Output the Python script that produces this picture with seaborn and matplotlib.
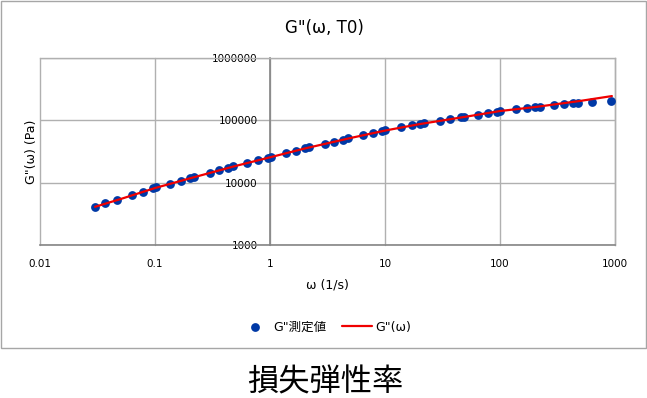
import matplotlib
matplotlib.use("Agg")
import matplotlib.pyplot as plt
import seaborn as sns
from matplotlib.patches import Rectangle
from matplotlib.ticker import FixedLocator, NullLocator

omega_meas = [0.0301, 0.0364, 0.0471, 0.063, 0.078, 0.096, 0.1016, 0.136, 0.167, 0.200,
              0.218, 0.298, 0.358, 0.434, 0.475, 0.629, 0.787, 0.968, 1.03, 1.38,
              1.67, 2.00, 2.18, 2.98, 3.58, 4.33, 4.79, 6.40, 7.87, 9.51,
              10.1, 13.8, 17.0, 20.1, 21.8, 30.3, 36.4, 45.9, 48.6, 65.0,
              78.7, 94.4, 100, 137, 171, 201, 223, 297, 362, 428,
              480, 627, 923]
g2_meas = [4100, 4640, 5250, 6310, 6960, 8070, 8370, 9570, 10700, 11800,
           12400, 14200, 15700, 16900, 18200, 20800, 22900, 25300, 25900, 29600,
           32700, 35700, 37400, 41800, 45600, 49100, 51600, 58200, 62000, 67500,
           70000, 77200, 83200, 87300, 90600, 98800, 105000, 112000, 113000, 123000,
           129000, 138000, 141000, 150000, 156000, 162000, 165000, 176000, 183000, 190000,
           190000, 194000, 207000]

# model curve G''(w)
omega_fit = [0.0301, 0.05, 0.1, 0.2, 0.5, 1, 2, 5, 10, 20, 50, 100, 200, 500, 940]
g2_fit = [4100, 5450, 8200, 11700, 18500, 25500, 35300, 52000, 68500, 87000,
          114000, 141000, 163000, 205000, 245000]

x_ticks = [0.01, 0.1, 1, 10, 100, 1000]
x_tick_labels = ["0.01", "0.1", "1", "10", "100", "1000"]
y_ticks = [1000, 10000, 100000, 1000000]
y_tick_labels = ["1000", "10000", "100000", "1000000"]

blue = "#0039a6"
red = "#f00000"
grid_col = "#b0b0b0"
axis_col = "#858585"

sns.set_theme(style="white")
plt.rcParams["font.family"] = ["DejaVu Sans", "Noto Sans CJK JP"]
plt.rcParams["text.color"] = "black"

fig = plt.figure(figsize=(6.47, 3.98), dpi=100)
ax = fig.add_axes([40 / 647, (398 - 245) / 398, 575 / 647, 187 / 398])
ax.set_xscale("log")
ax.set_yscale("log")

sns.scatterplot(x=omega_meas, y=g2_meas, ax=ax, color=blue, s=40, linewidth=0,
                label='G"測定値', zorder=3)
sns.lineplot(x=omega_fit, y=g2_fit, ax=ax, color=red, lw=1.6, sort=False,
             estimator=None, label='G"(ω)', zorder=4)

ax.set_xlim(0.01, 1000)
ax.set_ylim(1000, 1e6)
ax.xaxis.set_major_locator(FixedLocator(x_ticks))
ax.yaxis.set_major_locator(FixedLocator(y_ticks))
ax.xaxis.set_minor_locator(NullLocator())
ax.yaxis.set_minor_locator(NullLocator())
ax.set_xticklabels(x_tick_labels)
ax.set_yticklabels(y_tick_labels)
ax.tick_params(axis="both", length=0, labelsize=7.5, labelcolor="black")
ax.tick_params(axis="y", pad=9)
ax.tick_params(axis="x", pad=10)

ax.grid(True, color=grid_col, lw=1.0)
for gl in ax.get_xgridlines() + ax.get_ygridlines():
    gl.set_clip_on(False)

ax.spines["left"].set_position(("data", 1))
for side in ["left", "bottom"]:
    ax.spines[side].set_color(axis_col)
    ax.spines[side].set_linewidth(1.2)
for side in ["top", "right"]:
    ax.spines[side].set_color(grid_col)
    ax.spines[side].set_linewidth(1.0)

ax.set_xlabel("")
ax.set_ylabel("")
ax.get_legend().remove()

fig.text(324 / 647, 1 - 28 / 398, 'G"(ω, T0)', fontsize=12, ha="center", va="center")
fig.text(327 / 647, 1 - 285 / 398, "ω (1/s)", fontsize=9, ha="center", va="center")
fig.text(32 / 647, 1 - 152 / 398, 'G"(ω) (Pa)', fontsize=9, rotation=90,
         ha="center", va="center")

handles, labels = ax.get_legend_handles_labels()
leg = fig.legend(handles, labels, loc="center", bbox_to_anchor=(325.5 / 647, 1 - 327 / 398),
                 ncol=2, frameon=False, fontsize=9, handlelength=2.4, handletextpad=0.3,
                 columnspacing=1.2, borderpad=0)
for t in leg.get_texts():
    t.set_color("black")

fig.patches.append(Rectangle((0.5 / 647, 50 / 398), 645 / 647, 347.5 / 398,
                             transform=fig.transFigure, fill=False,
                             edgecolor="#a6a6a6", lw=1.0))

fig.text(325 / 647, 1 - 382 / 398, "損失弾性率", fontsize=22.5,
         family=["Noto Sans CJK JP"], ha="center", va="center")

fig.savefig("out.png", dpi=100)
